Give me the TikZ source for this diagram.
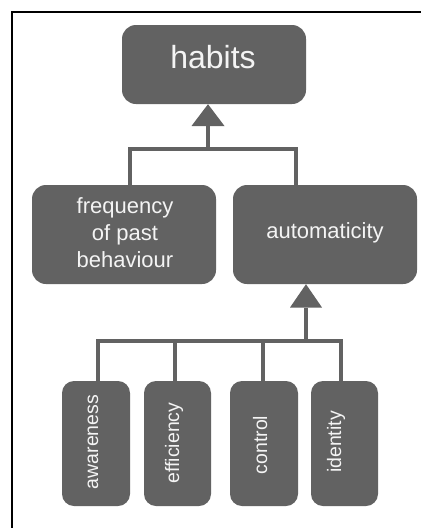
\documentclass[tikz,border=0pt]{standalone}
\usepackage{fontspec}
\setmainfont{Liberation Sans}
\definecolor{boxgrey}{HTML}{626262}
\definecolor{txtwhite}{HTML}{F4F4F4}
\begin{document}
\begin{tikzpicture}[x=1pt,y=-1pt,
  box/.style={draw=none,fill=boxgrey,rounded corners=14pt,inner sep=0pt},
  lbl/.style={text=txtwhite,inner sep=0pt},
  conn/.style={draw=boxgrey,line width=4pt},
  tri/.style={fill=boxgrey,draw=none},
  frame/.style={draw=black,line width=2pt}]
\useasboundingbox (0,0) rectangle (421,528);
\fill[white] (0,0) rectangle (421,528);
\draw[frame] (11.5,528) -- (11.5,11.5) -- (421,11.5);

% boxes
\node[box,minimum width=184pt,minimum height=79pt] (habits) at (214,64.5) {};
\node[box,minimum width=184pt,minimum height=99pt] (freq) at (124,234.5) {};
\node[box,minimum width=184pt,minimum height=99pt] (auto) at (325,234.5) {};
\node[box,rounded corners=12pt,minimum width=68pt,minimum height=125pt] (aw) at (96,443.5) {};
\node[box,rounded corners=12pt,minimum width=67pt,minimum height=125pt] (ef) at (177.5,443.5) {};
\node[box,rounded corners=12pt,minimum width=68pt,minimum height=125pt] (co) at (264,443.5) {};
\node[box,rounded corners=12pt,minimum width=67pt,minimum height=125pt] (id) at (344.5,443.5) {};

% labels
\node[lbl,anchor=base,font=\fontsize{32}{38}\selectfont] (habitsT) at (213,68) {habits};
\node[lbl,align=center,font=\fontsize{22}{27}\selectfont] (freqT) at (125,233) {frequency\\of past\\behaviour};
\node[lbl,anchor=base,font=\fontsize{22}{27}\selectfont] (autoT) at (325,238) {automaticity};
\node[lbl,anchor=base,rotate=90,font=\fontsize{19.5}{23}\selectfont] (awT) at (98,442) {awareness};
\node[lbl,anchor=base,rotate=90,font=\fontsize{19.5}{23}\selectfont] (efT) at (179,443) {efficiency};
\node[lbl,anchor=base,rotate=90,font=\fontsize{19.5}{23}\selectfont] (coT) at (267,445) {control};
\node[lbl,anchor=base,rotate=90,font=\fontsize{19.5}{23}\selectfont] (idT) at (341,442) {identity};

% connector 1
\coordinate (j1) at (208,148.5);
\coordinate (t1) at (208,126);
\coordinate (v1a) at (130,148.5);
\coordinate (v1b) at (296,148.5);
\draw[conn] (freq.north -| v1a) |- (j1) -| (auto.north -| v1b);
\draw[conn] (j1) -- (t1);
\path[tri] (habits.south -| t1) -- ([xshift=-16.5pt]t1) -- ([xshift=16.5pt]t1) -- cycle;

% connector 2
\coordinate (j2) at (306,341);
\coordinate (t2) at (306,307.5);
\coordinate (v2a) at (98,341);
\coordinate (v2b) at (175,341);
\coordinate (v2c) at (263,341);
\coordinate (v2d) at (341,341);
\draw[conn] (aw.north -| v2a) |- (j2) -| (id.north -| v2d);
\draw[conn] (ef.north -| v2b) -- (v2b);
\draw[conn] (co.north -| v2c) -- (v2c);
\draw[conn] (j2) -- (t2);
\path[tri] (auto.south -| t2) -- ([xshift=-16pt]t2) -- ([xshift=16pt]t2) -- cycle;
\end{tikzpicture}
\end{document}
